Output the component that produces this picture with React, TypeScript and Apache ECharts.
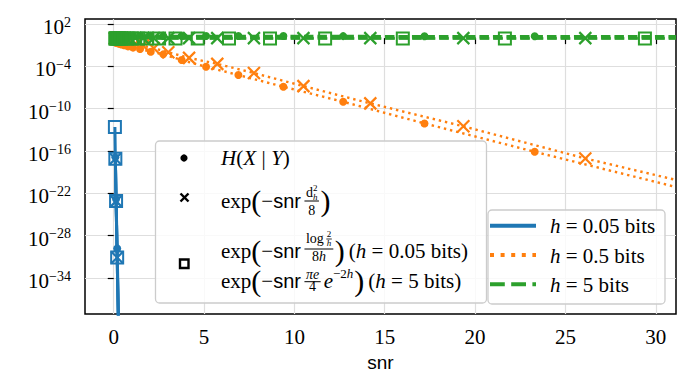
import React, { useEffect, useRef } from 'react';
import * as echarts from 'echarts';

const SERIF = "'Liberation Serif', 'Times New Roman', 'DejaVu Serif', serif";
const SANS = "'Liberation Sans', Arial, sans-serif";

// ---- axes ----
const xMin = -1.59;
const xMax = 31.12;
const yMin = -39.1; // log10
const yMax = 2.71;
const xTicks = [0, 5, 10, 15, 20, 25, 30];
const yTicks = [-34, -28, -22, -16, -10, -4, 2];

// ---- sample positions (snr) of the markers ----
const dotSnr = [0.067, 0.091, 0.124, 0.17, 0.23, 0.31, 0.43, 0.58, 0.79, 1.07, 1.46, 2.05, 2.74, 3.76, 5.11, 6.9, 9.39, 12.7, 17.2, 23.3];
const crossSnr = [0.076, 0.1, 0.14, 0.19, 0.26, 0.35, 0.48, 0.65, 0.88, 1.2, 1.63, 2.22, 3.02, 4.17, 5.73, 7.76, 10.5, 14.2, 19.35, 26.1];
const squareSnr = [0.086, 0.117, 0.159, 0.216, 0.29, 0.4, 0.54, 0.74, 1.0, 1.36, 1.85, 2.51, 3.42, 4.65, 6.38, 8.65, 11.7, 16.0, 21.65, 29.4];

// ---- values, log10 ----
// h = 0.05 bits
const blueSnr = [0.09, 0.13, 0.19, 0.27];
const blueH = [-16.9, -22.8, -29.8, -41.0];
const blueBound = [-17.1, -23.1, -31.1, -42.0];
const blueSqSnr = [0.065, 0.09, 0.13, 0.19, 0.27];
const blueSq = [-12.6, -17.1, -23.1, -31.1, -42.0];
// h = 0.5 bits
const orangeH = [-0.55, -0.6, -0.63, -0.67, -0.72, -0.8, -0.9, -1.02, -1.17, -1.35, -1.55, -1.93, -2.3, -3.11, -4.06, -5.23, -6.89, -9.02, -12.09, -16.11];
const orangeBound = [-0.05, -0.07, -0.09, -0.12, -0.17, -0.23, -0.31, -0.42, -0.57, -0.78, -1.06, -1.44, -2.0, -2.8, -3.65, -4.95, -6.8, -9.25, -12.5, -17.05];
const orangeEdge = [-21.1, -20.1]; // H, bound at the right edge
// h = 5 bits
const greenH = [0.36, 0.36, 0.36, 0.36, 0.35, 0.35, 0.35, 0.34, 0.34, 0.33, 0.33, 0.32, 0.31, 0.31, 0.3, 0.3, 0.29, 0.28, 0.27, 0.26];
const greenBound = [0, 0, 0, 0, 0, 0, 0, 0, 0, 0, 0, 0, 0, 0, 0, 0, 0, 0, 0, 0];
const greenSq = [-0.06, -0.06, -0.06, -0.06, -0.06, -0.06, -0.06, -0.06, -0.06, -0.06, -0.06, -0.06, -0.06, -0.06, -0.06, -0.06, -0.06, -0.06, -0.06, -0.06];
const greenEdge = [0.26, 0, -0.06];

const BLUE = '#1f77b4';
const ORANGE = '#ff7f0e';
const GREEN = '#2ca02c';

const CROSS = 'path://M0 0L10 10M10 0L0 10';

type Kind = 'dot' | 'cross' | 'square';
type LineKind = 'solid' | 'dotted' | 'dashed';

function makeSeries(name: string, xs: number[], ys: number[], color: string, kind: Kind, lk: LineKind, edge?: number) {
  const data: any[] = xs.map((x, i) => [x, ys[i]]);
  if (edge !== undefined) data.push({ value: [xMax, edge], symbol: 'none' });
  const lineStyle: any = { color, width: 2.5 };
  if (lk === 'solid') { lineStyle.width = 3; lineStyle.type = 'solid'; }
  if (lk === 'dotted') { lineStyle.width = 2.4; lineStyle.type = [2.4, 3.9]; lineStyle.cap = 'butt'; }
  if (lk === 'dashed') { lineStyle.width = 2.6; lineStyle.type = [9.5, 4]; lineStyle.cap = 'butt'; }
  const s: any = {
    name, type: 'line', data, lineStyle, showSymbol: true, clip: true, silent: true,
    emphasis: { disabled: true },
  };
  if (kind === 'dot') { s.symbol = 'circle'; s.symbolSize = 8; s.itemStyle = { color, borderWidth: 0 }; }
  if (kind === 'cross') { s.symbol = CROSS; s.symbolSize = 12; s.itemStyle = { color, borderColor: color, borderWidth: 2.2 }; }
  if (kind === 'square') { s.symbol = 'rect'; s.symbolSize = 12; s.itemStyle = { color: 'rgba(0,0,0,0)', borderColor: color, borderWidth: 2 }; }
  return s;
}

// ---------- text layout for the math legend ----------
type Item = any;
const K = 0.34;
let ctx: CanvasRenderingContext2D | null = null;
function famOf(it: Item) { return it.fam === 'sans' ? SANS : SERIF; }
function fontOf(it: Item) {
  return `${it.it ? 'italic ' : ''}${it.s}px ${famOf(it)}`;
}
function tw(text: string, font: string) {
  if (!ctx) ctx = document.createElement('canvas').getContext('2d');
  ctx!.font = font;
  return ctx!.measureText(text).width;
}
function layout(items: Item[], x: number, base: number, els: any[]): number {
  for (const it of items) {
    x += it.gap || 0;
    if (it.frac) {
      const wn = layout(it.num, 0, 0, []);
      const wd = layout(it.den, 0, 0, []);
      const pad = it.pad ?? 1.5;
      const W = Math.max(wn, wd) + 2 * pad;
      layout(it.num, x + (W - wn) / 2, base + it.nb, els);
      layout(it.den, x + (W - wd) / 2, base + it.db, els);
      els.push({ type: 'line', silent: true, z: 101, shape: { x1: x, y1: base + it.bar, x2: x + W, y2: base + it.bar }, style: { stroke: '#000', lineWidth: it.bw ?? 1 } });
      x += W;
    } else {
      const font = fontOf(it);
      const w = tw(it.t, font);
      els.push({
        type: 'text', silent: true, z: 101, x, y: base + (it.dy || 0) - K * it.s,
        style: {
          text: it.t, fontSize: it.s, fontFamily: famOf(it), fontStyle: it.it ? 'italic' : 'normal',
          fill: '#000', textAlign: 'left', textVerticalAlign: 'middle',
        },
      });
      if (!it.stay) x += w;
    }
  }
  return x;
}

const M = 21;
const T = (t: string, extra: any = {}) => ({ t, s: M, ...extra });
const P = (t: string, extra: any = {}) => ({ t, s: 30, dy: 2.3, ...extra });
const expSnr = [T('exp'), P('('), T('\u2212'), { t: 'snr', s: 20, fam: 'sans' }];

function legendElements() {
  const els: any[] = [];
  els.push({ type: 'rect', silent: true, z: 100, shape: { x: 155.5, y: 141, width: 331, height: 162, r: 4 }, style: { fill: 'rgba(255,255,255,0.82)', stroke: '#cccccc', lineWidth: 1.3 } });
  els.push({ type: 'rect', silent: true, z: 100, shape: { x: 488, y: 210, width: 177, height: 94, r: 4 }, style: { fill: 'rgba(255,255,255,0.82)', stroke: '#cccccc', lineWidth: 1.3 } });

  els.push({ type: 'circle', silent: true, z: 101, shape: { cx: 184, cy: 158, r: 3.6 }, style: { fill: '#000' } });
  els.push({ type: 'line', silent: true, z: 101, shape: { x1: 180.5, y1: 193.5, x2: 188.5, y2: 201.5 }, style: { stroke: '#000', lineWidth: 2.4 } });
  els.push({ type: 'line', silent: true, z: 101, shape: { x1: 188.5, y1: 193.5, x2: 180.5, y2: 201.5 }, style: { stroke: '#000', lineWidth: 2.4 } });
  els.push({ type: 'rect', silent: true, z: 101, shape: { x: 180, y: 259.5, width: 8.5, height: 8.5 }, style: { fill: 'none', stroke: '#000', lineWidth: 2.4 } });

  layout([T('H', { it: true }), T('('), T('X', { it: true }), T('|', { gap: 5.5 }), T('Y', { it: true, gap: 5.5 }), T(')')], 221, 165, els);

  layout([
    ...expSnr,
    { frac: true, gap: 3.5, bar: -7, nb: -10.5, db: 7, num: [{ t: 'd', s: 14 }, { t: '2', s: 9, dy: -6.5, stay: true }, { t: 'h', s: 9, it: true, dy: 2.5 }], den: [{ t: '8', s: 14 }] },
    P(')', { gap: 1.5 }),
  ], 221, 208, els);

  layout([
    ...expSnr,
    {
      frac: true, gap: 3.5, bar: -9, nb: -15, db: 3,
      num: [{ t: 'log', s: 14 }, { frac: true, gap: 2.5, bar: -4, nb: -5.5, db: 3.5, pad: 0.5, bw: 0.8, num: [{ t: '2', s: 9 }], den: [{ t: 'h', s: 9, it: true }] }],
      den: [{ t: '8', s: 14 }, { t: 'h', s: 14, it: true }],
    },
    P(')', { gap: 1.5 }),
    T('(', { gap: 4 }), T('h', { it: true }), T(' = 0.05 bits)'),
  ], 221, 258, els);

  layout([
    ...expSnr,
    { frac: true, gap: 3.5, bar: -6.3, nb: -9, db: 3.5, num: [{ t: '\u03c0', s: 14, it: true }, { t: 'e', s: 14, it: true }], den: [{ t: '4', s: 14 }] },
    T('e', { it: true, gap: 3 }),
    { t: '\u22122', s: 13, dy: -10 }, { t: 'h', s: 13, it: true, dy: -10 },
    P(')', { gap: 1 }),
    T('(', { gap: 4 }), T('h', { it: true }), T(' = 5 bits)'),
  ], 221, 288, els);

  els.push({ type: 'line', silent: true, z: 101, shape: { x1: 490, y1: 225.7, x2: 536, y2: 225.7 }, style: { stroke: BLUE, lineWidth: 4 } });
  els.push({ type: 'line', silent: true, z: 101, shape: { x1: 490, y1: 255, x2: 536, y2: 255 }, style: { stroke: ORANGE, lineWidth: 4, lineDash: [4, 6.6], lineCap: 'butt' } });
  els.push({ type: 'line', silent: true, z: 101, shape: { x1: 490, y1: 284.3, x2: 536, y2: 284.3 }, style: { stroke: GREEN, lineWidth: 4, lineDash: [14.8, 6.4], lineCap: 'butt' } });
  layout([T('h', { it: true }), T(' = 0.05 bits')], 550, 233.3, els);
  layout([T('h', { it: true }), T(' = 0.5 bits')], 550, 262.7, els);
  layout([T('h', { it: true }), T(' = 5 bits')], 550, 291.7, els);
  return els;
}

function yLabel(v: number) {
  const n = Math.round(v);
  const e = n < 0 ? '\u2212' + Math.abs(n) : String(n);
  return `{b|10}{s|${e}}`;
}

export default function App() {
  const ref = useRef<HTMLDivElement>(null);
  useEffect(() => {
    if (!ref.current) return;
    const chart = echarts.init(ref.current, undefined, { renderer: 'svg' });
    const series = [
      makeSeries('blueH', blueSnr, blueH, BLUE, 'dot', 'solid'),
      makeSeries('blueB', blueSnr, blueBound, BLUE, 'cross', 'solid'),
      makeSeries('blueS', blueSqSnr, blueSq, BLUE, 'square', 'solid'),
      makeSeries('orangeH', dotSnr, orangeH, ORANGE, 'dot', 'dotted', orangeEdge[0]),
      makeSeries('orangeB', crossSnr, orangeBound, ORANGE, 'cross', 'dotted', orangeEdge[1]),
      makeSeries('greenH', dotSnr, greenH, GREEN, 'dot', 'dashed', greenEdge[0]),
      makeSeries('greenB', crossSnr, greenBound, GREEN, 'cross', 'dashed', greenEdge[1]),
      makeSeries('greenS', squareSnr, greenSq, GREEN, 'square', 'dashed', greenEdge[2]),
    ];
    chart.setOption({
      animation: false,
      backgroundColor: '#ffffff',
      textStyle: { fontFamily: SERIF },
      grid: {
        left: 85, right: 21, top: 19, bottom: 72, show: true,
        borderColor: '#000', borderWidth: 1.5, backgroundColor: 'transparent',
        outerBoundsMode: 'none', containLabel: false,
      },
      xAxis: {
        type: 'value', min: xMin, max: xMax,
        axisLine: { show: false },
        axisTick: { show: true, length: 6, lineStyle: { color: '#000', width: 1.2 }, customValues: xTicks },
        axisLabel: { customValues: xTicks, margin: 12, fontSize: 21, fontFamily: SERIF, color: '#000' },
        splitLine: { show: true, lineStyle: { color: '#dedede', width: 1.2 } },
        name: 'snr', nameLocation: 'middle', nameGap: 39,
        nameTextStyle: { fontFamily: SANS, fontSize: 19, color: '#000' },
      },
      yAxis: {
        type: 'value', min: yMin, max: yMax,
        axisLine: { show: false },
        axisTick: { show: true, length: 6, lineStyle: { color: '#000', width: 1.2 }, customValues: yTicks },
        axisLabel: {
          customValues: yTicks, margin: 14, formatter: yLabel, fontFamily: SERIF,
          rich: {
            b: { fontSize: 21, fontFamily: SERIF, color: '#000', padding: [6, 0, 0, 0] },
            s: { fontSize: 14, fontFamily: SERIF, color: '#000', padding: [0, 0, 4, 0] },
          },
        },
        splitLine: { show: true, lineStyle: { color: '#dedede', width: 1.2 } },
      },
      series,
      graphic: legendElements(),
    });
    return () => chart.dispose();
  }, []);
  return <div ref={ref} style={{ width: 697, height: 386, position: 'absolute', left: 0, top: 0 }} />;
}
